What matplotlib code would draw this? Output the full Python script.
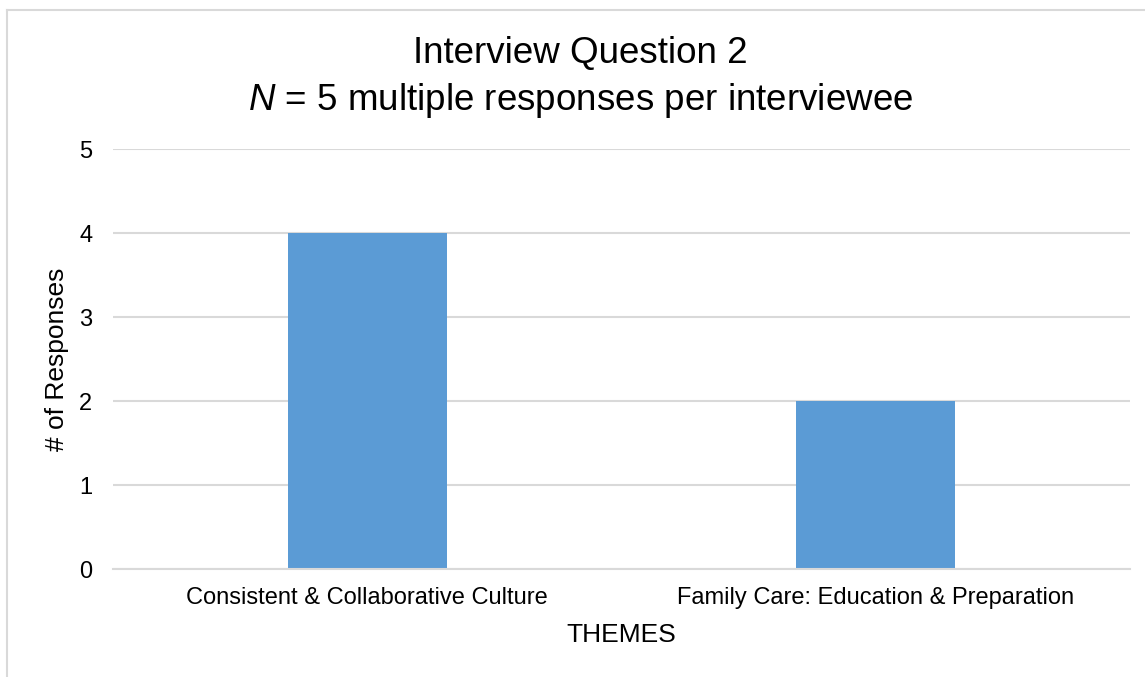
import matplotlib.pyplot as plt
from matplotlib.lines import Line2D

plt.rcParams['font.family'] = ['Liberation Sans', 'DejaVu Sans']
plt.rcParams['mathtext.fontset'] = 'custom'
plt.rcParams['mathtext.rm'] = 'Liberation Sans'
plt.rcParams['mathtext.it'] = 'Liberation Sans:italic'

themes = ["Consistent & Collaborative Culture", "Family Care: Education & Preparation"]
responses = [4, 2]
y_ticks = [0, 1, 2, 3, 4, 5]

grid_color = "#d9d9d9"
bar_color = "#5b9bd5"

fig = plt.figure(figsize=(11.45, 6.77), dpi=100)
ax = fig.add_axes([113 / 1145, 1 - 569 / 677, (1130 - 113) / 1145, (569 - 149) / 677])

x = list(range(len(themes)))
ax.bar(x, responses, width=159 / 508.5, color=bar_color, zorder=3)
ax.set_xlim(-0.5, len(themes) - 0.5)
ax.set_ylim(0, 5)
ax.set_yticks(y_ticks)
ax.set_xticks(x)
ax.set_xticklabels(themes)

ax.grid(axis="y", color=grid_color, linewidth=1.5, zorder=0)
for s in ["top", "right", "left"]:
    ax.spines[s].set_visible(False)
ax.spines["bottom"].set_color(grid_color)
ax.spines["bottom"].set_linewidth(1.5)
ax.spines["bottom"].set_zorder(4)

ax.tick_params(axis="y", length=0, pad=15, labelsize=17, colors="#000000")
ax.tick_params(axis="x", length=0, pad=13, labelsize=17)

ax.set_xlabel("THEMES", fontsize=19, labelpad=10)
ax.set_ylabel("# of Responses", fontsize=19, labelpad=7)

fig.text(0.507, 1 - 53 / 677, "Interview Question 2", ha="center", va="center", fontsize=26.5)
fig.text(0.507, 1 - 100 / 677, "$N$ = 5 multiple responses per interviewee", ha="center", va="center", fontsize=26.5)

# chart area border (top and left edges visible)
fig.add_artist(Line2D([7 / 1145, 7 / 1145], [0, 1 - 10 / 677], transform=fig.transFigure, color=grid_color, linewidth=1.5))
fig.add_artist(Line2D([7 / 1145, 1], [1 - 10 / 677, 1 - 10 / 677], transform=fig.transFigure, color=grid_color, linewidth=1.5))

plt.savefig("out.png", dpi=100)
plt.close(fig)
